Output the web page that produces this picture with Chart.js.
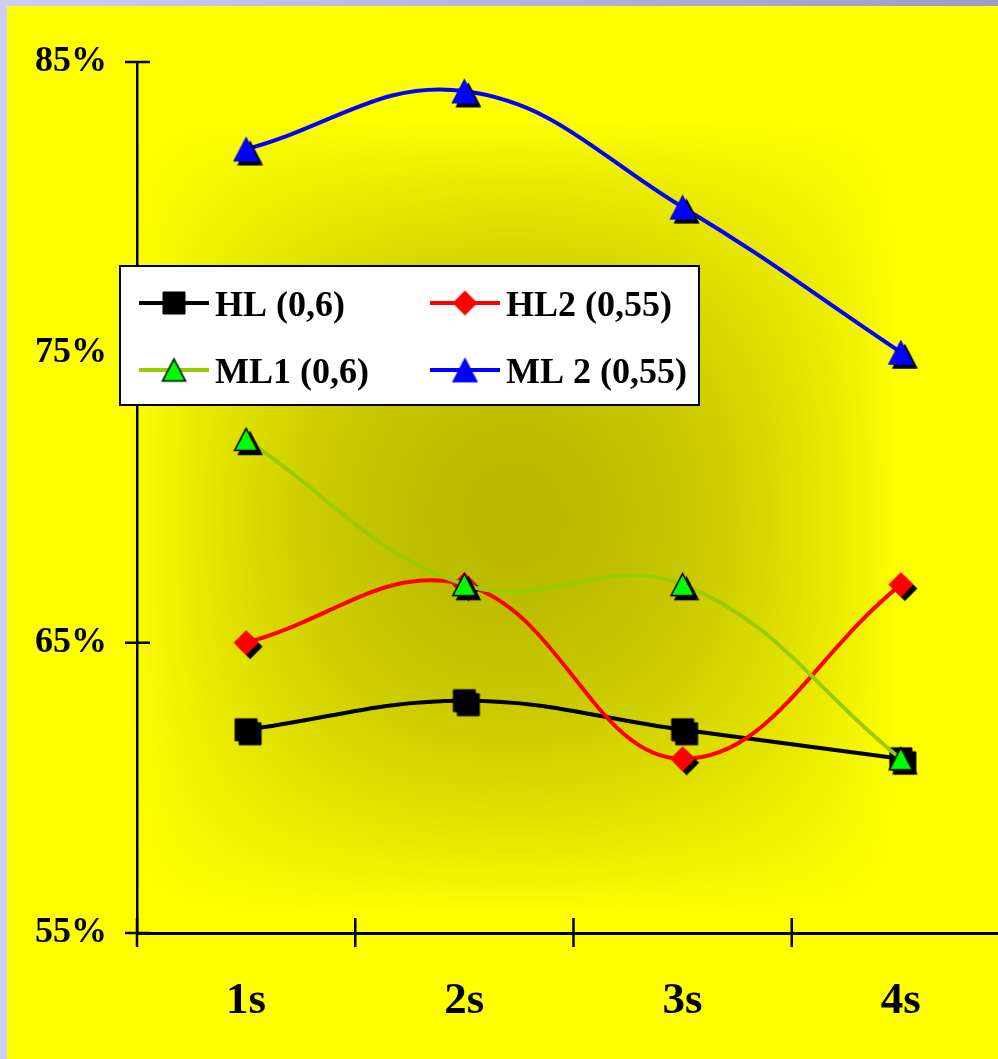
<!DOCTYPE html>
<html>
<head>
<meta charset="utf-8">
<script src="https://cdn.jsdelivr.net/npm/chart.js@4/dist/chart.umd.min.js"></script>
<style>
  html, body { margin: 0; padding: 0; width: 998px; height: 1059px; overflow: hidden; }
  body { position: relative; background: linear-gradient(to right, #cdcdf7 0%, #b4b4e0 50%, #9c9cc6 100%); }
  #frame { position: absolute; left: 7px; top: 6px; width: 1003px; height: 1053px; }
  #chart { display: block; }
</style>
</head>
<body>
<div id="frame"><canvas id="chart" width="1003" height="1053"></canvas></div>
<script>
// Categories and series (percent values)
const categories = ['1s', '2s', '3s', '4s'];
const hl  = [62, 63, 62, 61];
const hl2 = [65, 67, 61, 67];
const ml1 = [72, 67, 67, 61];
const ml2 = [82, 84, 80, 75];
const yTicks = [55, 65, 75, 85];
const seriesLabels = ['HL (0,6)', 'HL2 (0,55)', 'ML1 (0,6)', 'ML 2 (0,55)'];

const SERIF = '"Liberation Serif", "Times New Roman", serif';

// Builds a marker bitmap; with a shadow, a black copy sits offset down-right.
function markerCanvas(kind, w, h, fill, stroke, lw, shadow) {
  const off = shadow ? 4 : 0;
  const C = Math.ceil(Math.max(w, h) + 2 * off + 6);
  const c = document.createElement('canvas');
  c.width = C; c.height = C;
  const g = c.getContext('2d');
  const cx = C / 2, cy = C / 2, hw = w / 2, hh = h / 2;
  const path = (dx, dy) => {
    g.beginPath();
    if (kind === 'square') {
      g.rect(cx - hw + dx, cy - hh + dy, w, h);
    } else if (kind === 'diamond') {
      g.moveTo(cx + dx, cy - hh + dy);
      g.lineTo(cx + hw + dx, cy + dy);
      g.lineTo(cx + dx, cy + hh + dy);
      g.lineTo(cx - hw + dx, cy + dy);
      g.closePath();
    } else {
      g.moveTo(cx + dx, cy - hh + dy);
      g.lineTo(cx + hw + dx, cy + hh + dy);
      g.lineTo(cx - hw + dx, cy + hh + dy);
      g.closePath();
    }
  };
  g.lineJoin = 'miter';
  if (shadow) {
    path(off, off);
    g.fillStyle = '#000';
    g.fill();
    if (lw) { g.lineWidth = lw; g.strokeStyle = '#000'; g.stroke(); }
  }
  path(0, 0);
  g.fillStyle = fill;
  g.fill();
  if (lw) { g.lineWidth = lw; g.strokeStyle = stroke; g.stroke(); }
  return c;
}

const markerSpecs = [
  ['square', 22, 22, '#000000', '#000000', 1],
  ['diamond', 25, 25, '#FF0000', '#FF0000', 0],
  ['triangle', 23, 22, '#00FF00', '#000000', 1.6],
  ['triangle', 25, 24, '#0000FF', '#0000FF', 0.8]
];
const chartMarkers = markerSpecs.map(s => markerCanvas(s[0], s[1], s[2], s[3], s[4], s[5], true));
const legendMarkers = markerSpecs.map(s => markerCanvas(s[0], s[1], s[2], s[3], s[4], s[5], false));

// Yellow fill darkening toward the middle of the chart
let bgCache = null;
const backgroundPlugin = {
  id: 'shadedBackground',
  beforeDraw(chart) {
    const { ctx, width, height } = chart;
    if (!bgCache) {
      bgCache = document.createElement('canvas');
      bgCache.width = width; bgCache.height = height;
      const g = bgCache.getContext('2d');
      const img = g.createImageData(width, height);
      const cx = 507, cy = 510, rx = 385, ry = 400, depth = 0.27;
      for (let y = 0; y < height; y++) {
        const ty = (y - cy) / ry;
        const gy = Math.max(0, 1 - ty * ty);
        for (let x = 0; x < width; x++) {
          const tx = (x - cx) / rx;
          const gx = Math.max(0, 1 - tx * tx);
          const v = Math.round(255 * (1 - depth * gx * gy));
          const i = (y * width + x) * 4;
          img.data[i] = v; img.data[i + 1] = v; img.data[i + 2] = 0; img.data[i + 3] = 255;
        }
      }
      g.putImageData(img, 0, 0);
    }
    ctx.drawImage(bgCache, 0, 0);
  }
};

// Tick marks that cross both axes
const crossTicksPlugin = {
  id: 'crossTicks',
  beforeDatasetsDraw(chart) {
    const { ctx, chartArea, scales } = chart;
    ctx.save();
    ctx.strokeStyle = '#000';
    ctx.lineWidth = 2.5;
    ctx.beginPath();
    yTicks.forEach(v => {
      const y = scales.y.getPixelForValue(v);
      ctx.moveTo(chartArea.left - 12, y);
      ctx.lineTo(chartArea.left + 13, y);
    });
    for (let i = 0; i <= categories.length; i++) {
      const x = scales.x.getPixelForValue(i - 0.5);
      ctx.moveTo(x, chartArea.bottom - 15);
      ctx.lineTo(x, chartArea.bottom + 14);
    }
    ctx.stroke();
    ctx.restore();
  }
};

// Boxed two-column legend
const boxLegendPlugin = {
  id: 'boxLegend',
  afterDatasetsDraw(chart) {
    const ctx = chart.ctx;
    const box = { x: 113, y: 260, w: 579, h: 139 };
    ctx.save();
    ctx.fillStyle = '#ffffff';
    ctx.fillRect(box.x, box.y, box.w, box.h);
    ctx.lineWidth = 2;
    ctx.strokeStyle = '#000';
    ctx.strokeRect(box.x, box.y, box.w, box.h);
    const cols = [132, 423];
    const rows = [297, 364];
    chart.data.datasets.forEach((ds, i) => {
      const lx = cols[i % 2], ly = rows[Math.floor(i / 2)];
      ctx.strokeStyle = ds.borderColor;
      ctx.lineWidth = 4;
      ctx.beginPath();
      ctx.moveTo(lx, ly);
      ctx.lineTo(lx + 70, ly);
      ctx.stroke();
      const m = legendMarkers[i];
      ctx.drawImage(m, lx + 35 - m.width / 2, ly - m.height / 2);
      ctx.fillStyle = '#000';
      ctx.font = 'bold 36px ' + SERIF;
      ctx.textBaseline = 'alphabetic';
      ctx.textAlign = 'left';
      ctx.fillText(ds.label, lx + 76, ly + 12.5);
    });
    ctx.restore();
  }
};

const colors = ['#000000', '#FF0000', '#99CC00', '#0000FF'];
const values = [hl, hl2, ml1, ml2];

new Chart(document.getElementById('chart'), {
  type: 'line',
  data: {
    labels: categories,
    datasets: values.map((vals, i) => ({
      label: seriesLabels[i],
      data: vals,
      borderColor: colors[i],
      backgroundColor: colors[i],
      pointStyle: chartMarkers[i],
      order: values.length - i
    }))
  },
  options: {
    responsive: false,
    animation: false,
    devicePixelRatio: 1,
    layout: { autoPadding: false, padding: { top: 56, left: 0, right: 0, bottom: 0 } },
    elements: {
      line: { borderWidth: 4, tension: 0.4, fill: false, borderJoinStyle: 'round' },
      point: { radius: 12, hoverRadius: 12 }
    },
    plugins: {
      legend: { display: false },
      tooltip: { enabled: false }
    },
    scales: {
      x: {
        type: 'category',
        offset: true,
        grid: { display: true, drawOnChartArea: false, drawTicks: false, offset: true },
        border: { display: true, color: '#000', width: 3 },
        ticks: { color: '#000', padding: 41, font: { family: SERIF, size: 45, weight: 'bold' }, maxRotation: 0 },
        afterFit(scale) { scale.height = 126; }
      },
      y: {
        min: 55,
        max: 85,
        grid: { display: true, drawOnChartArea: false, drawTicks: false },
        border: { display: true, color: '#000', width: 2.5 },
        afterBuildTicks(scale) { scale.ticks = yTicks.map(v => ({ value: v })); },
        ticks: {
          color: '#000',
          padding: 30,
          font: { family: SERIF, size: 36, weight: 'bold' },
          callback: v => v + '%'
        },
        afterFit(scale) { scale.width = 130; }
      }
    }
  },
  plugins: [backgroundPlugin, crossTicksPlugin, boxLegendPlugin]
});
</script>
</body>
</html>
